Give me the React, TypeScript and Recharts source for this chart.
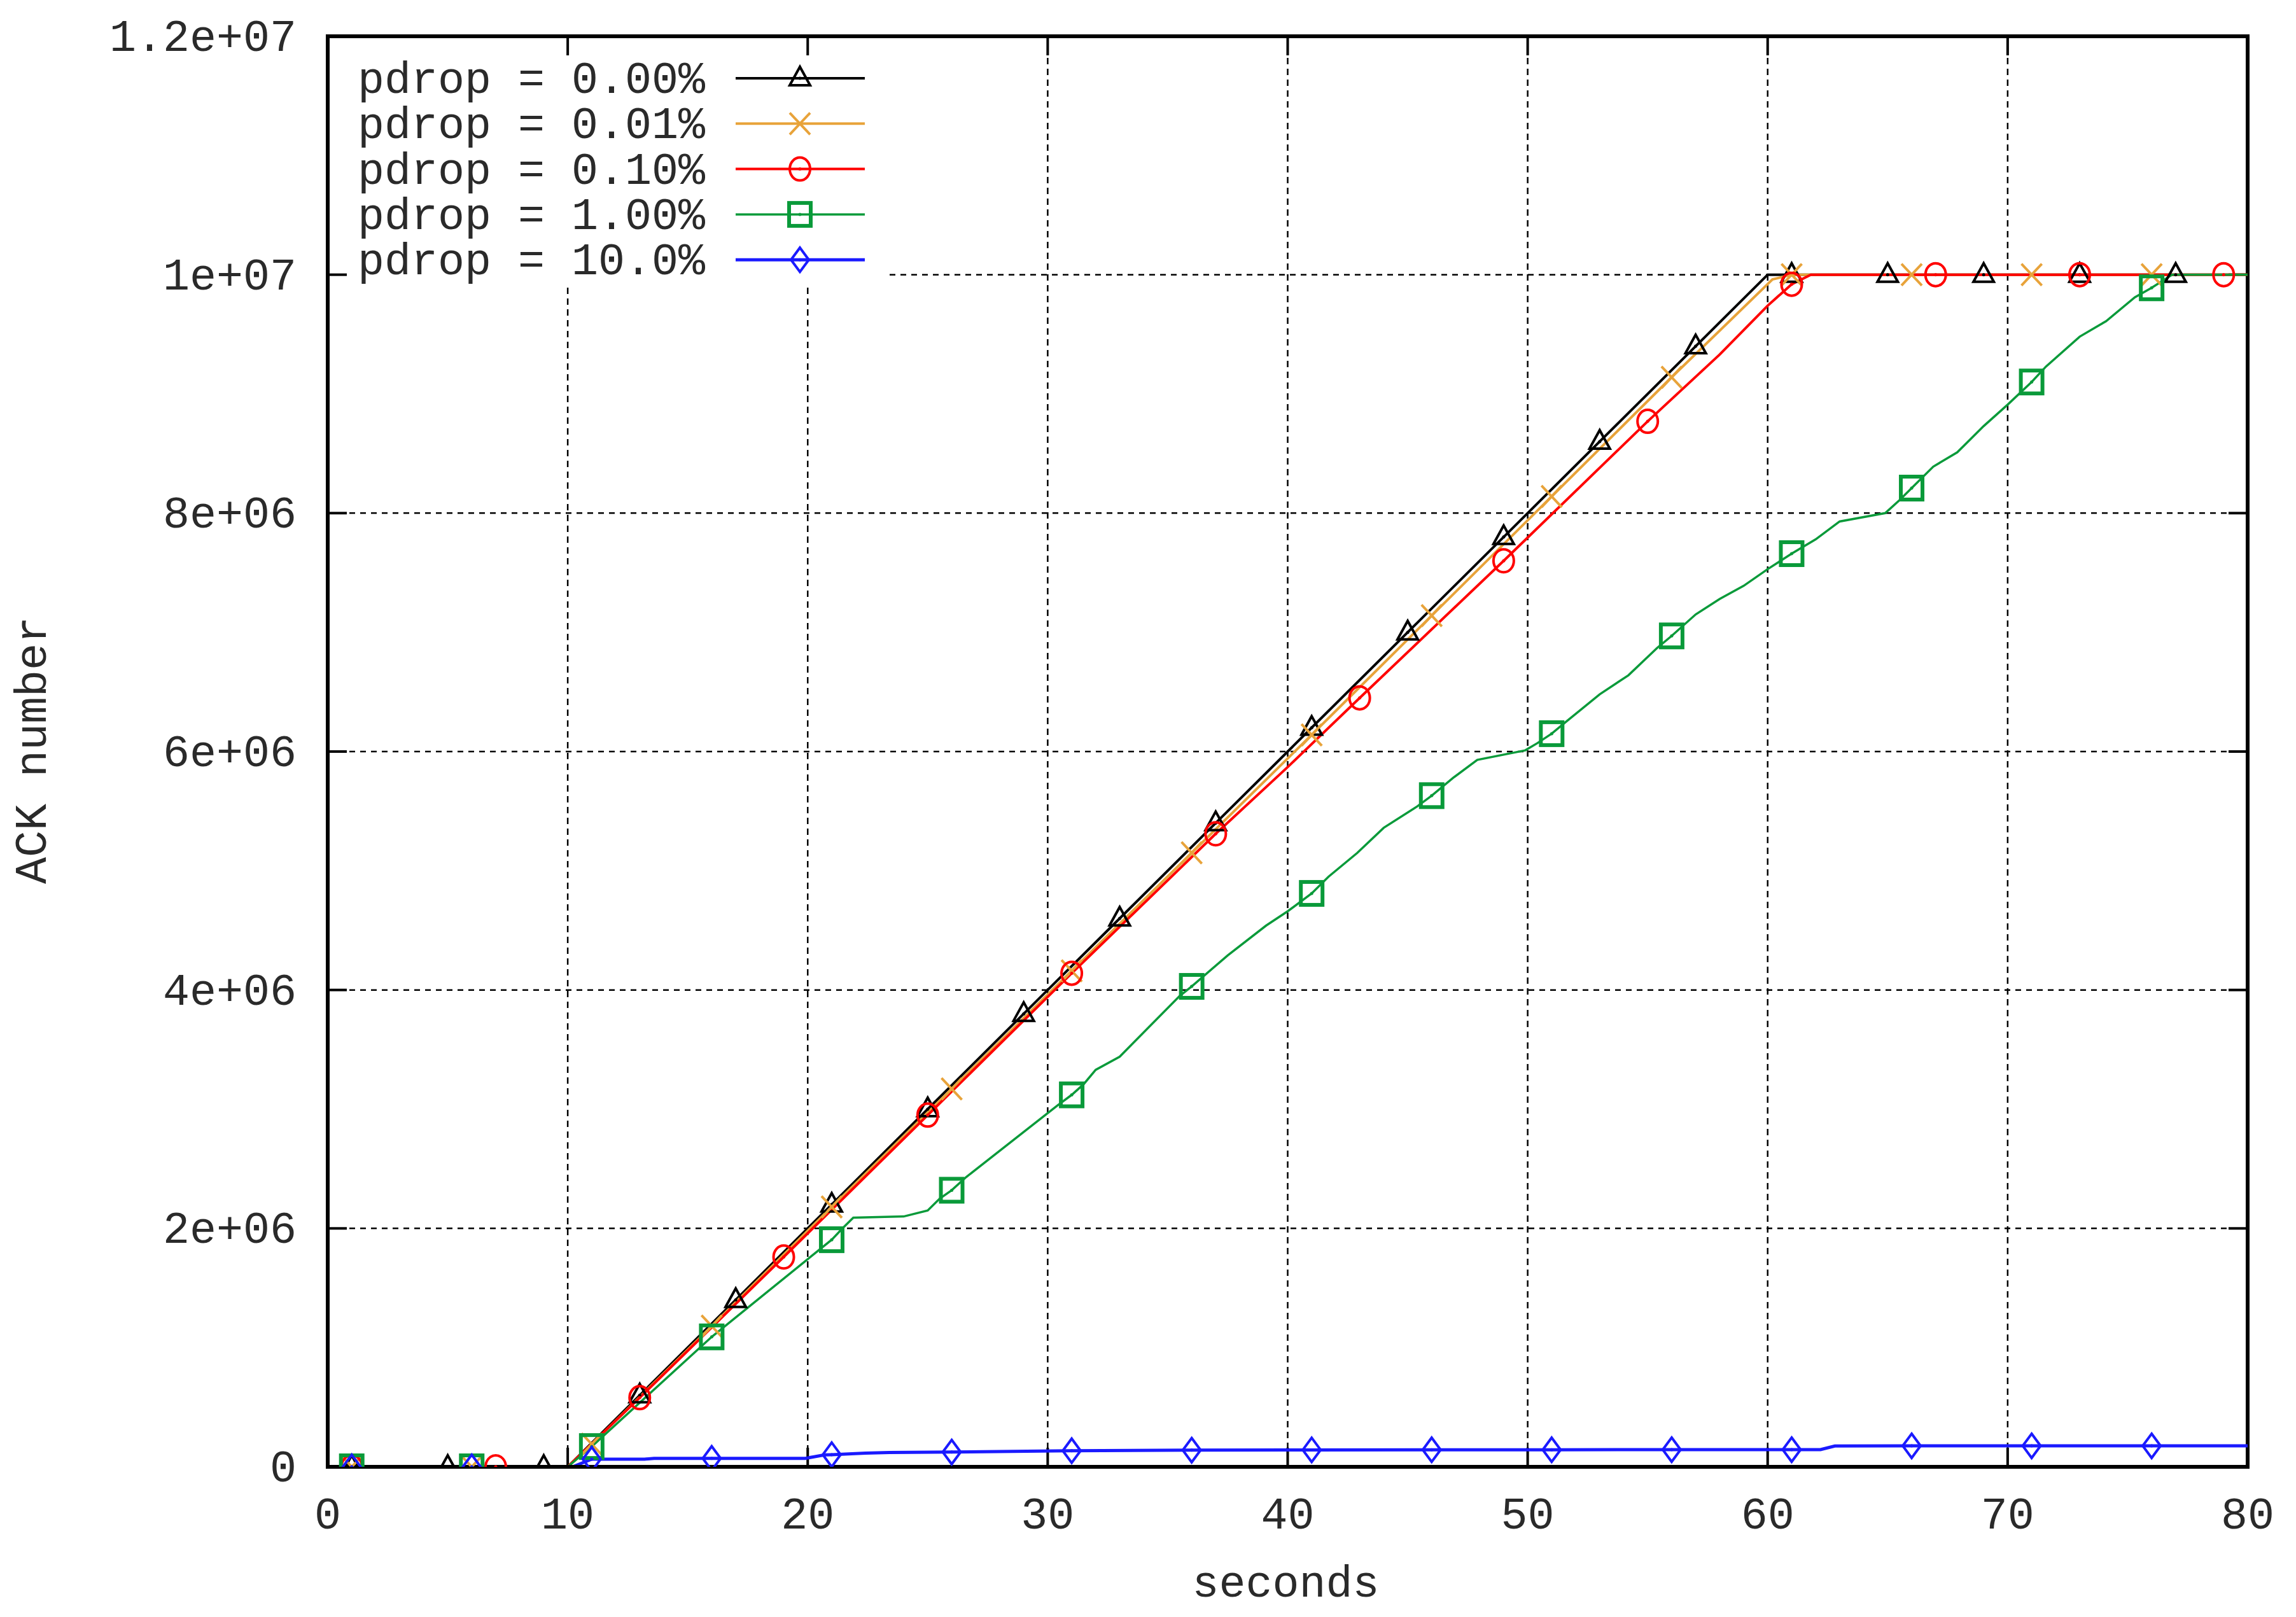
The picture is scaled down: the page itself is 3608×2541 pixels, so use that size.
import React from 'react';
import { LineChart, Line, XAxis, YAxis, CartesianGrid, Legend } from 'recharts';

// ---------- axis ticks ----------
const xTicks = [0, 10, 20, 30, 40, 50, 60, 70, 80];
const yTicks = [0, 2e6, 4e6, 6e6, 8e6, 10e6, 12e6];

// ---------- series: [seconds, ACK number in millions] ----------
const ack000: [number, number][] = [
  [1, 0], [5, 0], [9, 0], [10, 0], [13, 0.6], [17, 1.4], [21, 2.2], [25, 3.0], [29, 3.8],
  [33, 4.6], [37, 5.4], [41, 6.2], [45, 7.0], [49, 7.8], [53, 8.6], [57, 9.4], [60, 10.0],
  [61, 10.0], [65, 10.0], [69, 10.0], [73, 10.0], [77, 10.0], [80, 10.0],
];
const marks000 = [1, 5, 9, 13, 17, 21, 25, 29, 33, 37, 41, 45, 49, 53, 57, 61, 65, 69, 73, 77];

const ack001: [number, number][] = [
  [1, 0], [6, 0], [10, 0], [11, 0.19], [16, 1.18], [21, 2.18], [26, 3.17], [31, 4.16],
  [36, 5.15], [41, 6.14], [46, 7.14], [51, 8.14], [56, 9.14], [60.2, 9.96], [61, 10.0],
  [66, 10.0], [71, 10.0], [76, 10.0], [80, 10.0],
];
const marks001 = [1, 6, 11, 16, 21, 26, 31, 36, 41, 46, 51, 56, 61, 66, 71, 76];

const ack010: [number, number][] = [
  [1, 0], [7, 0], [10, 0], [13, 0.58], [19, 1.76], [25, 2.95], [31, 4.14], [37, 5.31],
  [40, 5.87], [43, 6.45], [49, 7.6], [55, 8.77], [58, 9.33], [60, 9.74], [61, 9.92],
  [61.8, 10.0], [67, 10.0], [73, 10.0], [79, 10.0], [80, 10.0],
];
const marks010 = [1, 7, 13, 19, 25, 31, 37, 43, 49, 55, 61, 67, 73, 79];

const ack100: [number, number][] = [
  [1, 0], [6, 0], [10, 0], [11, 0.17], [16, 1.09], [21, 1.905], [21.45, 2.0], [21.9, 2.09],
  [24, 2.1], [25, 2.15], [25.5, 2.25], [26, 2.32], [26.6, 2.43], [30.4, 3.03], [31, 3.12],
  [31.5, 3.21], [32, 3.33], [33, 3.44], [35.5, 3.95], [36, 4.03], [37.5, 4.29], [39.1, 4.54],
  [40, 4.66], [41, 4.81], [41.7, 4.95], [42.9, 5.15], [44, 5.36], [45.4, 5.54], [46, 5.63],
  [46.9, 5.78], [47.9, 5.93], [49.4, 5.99], [49.9, 6.01], [50.4, 6.07], [51, 6.15],
  [51.6, 6.25], [53, 6.48], [54.2, 6.64], [55.4, 6.87], [56, 6.97], [57, 7.15], [58, 7.28],
  [59, 7.39], [60, 7.53], [61, 7.66], [62, 7.78], [63, 7.93], [64.9, 8.0], [65.5, 8.11],
  [66, 8.21], [66.9, 8.39], [67.9, 8.51], [69, 8.73], [70, 8.91], [71, 9.1], [71.6, 9.23],
  [73, 9.48], [74.1, 9.61], [75.3, 9.81], [76, 9.89], [76.85, 10.0], [80, 10.0],
];
const marks100 = [1, 6, 11, 16, 21, 26, 31, 36, 41, 46, 51, 56, 61, 66, 71, 76];

const ack1000: [number, number][] = [
  [1, 0], [6, 0], [10.2, 0], [11, 0.064], [13.2, 0.064], [13.6, 0.071], [16, 0.071],
  [19.9, 0.071], [20.7, 0.1], [21, 0.102], [22.4, 0.115], [23.4, 0.12], [26, 0.124],
  [30.9, 0.135], [31, 0.135], [36, 0.14], [40, 0.142], [41, 0.142], [46, 0.143], [51, 0.143],
  [56, 0.144], [61, 0.144], [62.2, 0.144], [62.8, 0.175], [66, 0.176], [71, 0.176],
  [76, 0.176], [80, 0.176],
];
const marks1000 = [1, 6, 11, 16, 21, 26, 31, 36, 41, 46, 51, 56, 61, 66, 71, 76];

const seriesNames = ['pdrop = 0.00%', 'pdrop = 0.01%', 'pdrop = 0.10%', 'pdrop = 1.00%', 'pdrop = 10.0%'];

// ---------- styling ----------
const FONT = '"Liberation Mono", "DejaVu Sans Mono", monospace';
const FS = 70;
const TEXT = '#2a2a2a';
const W = 3608;
const H = 2541;
const PLOT_L = 515;
const PLOT_R = 3532;
const PLOT_T = 57;
const PLOT_B = 2305;
const LEG_R = 1398;
const LEG_B = 452;
const TICK = 30;
const BORDER = 6;

type Shape = 'tri' | 'cross' | 'circle' | 'square' | 'diamond';

const toRows = (pts: [number, number][], marks: number[]) =>
  pts.map(([t, a]) => ({ t, ack: a * 1e6, mark: marks.includes(t) }));

const SERIES = [
  { name: seriesNames[0], color: '#000000', shape: 'tri' as Shape, width: 4, rows: toRows(ack000, marks000) },
  { name: seriesNames[1], color: '#e8a33a', shape: 'cross' as Shape, width: 4, rows: toRows(ack001, marks001) },
  { name: seriesNames[2], color: '#ff0000', shape: 'circle' as Shape, width: 4, rows: toRows(ack010, marks010) },
  { name: seriesNames[3], color: '#0a9a3a', shape: 'square' as Shape, width: 3.5, rows: toRows(ack100, marks100) },
  { name: seriesNames[4], color: '#1a1aff', shape: 'diamond' as Shape, width: 5, rows: toRows(ack1000, marks1000) },
];

const drawMarker = (shape: Shape, cx: number, cy: number, color: string, key?: string) => {
  const dot = <circle cx={cx} cy={cy} r={2.5} fill={color} />;
  switch (shape) {
    case 'tri':
      return (
        <g key={key}>
          <polygon points={`${cx},${cy - 18} ${cx - 16},${cy + 11} ${cx + 16},${cy + 11}`} fill="none" stroke={color} strokeWidth={4} />
          {dot}
        </g>
      );
    case 'cross':
      return (
        <g key={key}>
          <line x1={cx - 16} y1={cy - 17} x2={cx + 16} y2={cy + 17} stroke={color} strokeWidth={4} />
          <line x1={cx - 16} y1={cy + 17} x2={cx + 16} y2={cy - 17} stroke={color} strokeWidth={4} />
        </g>
      );
    case 'circle':
      return (
        <g key={key}>
          <ellipse cx={cx} cy={cy} rx={16} ry={18} fill="none" stroke={color} strokeWidth={4} />
          {dot}
        </g>
      );
    case 'square':
      return (
        <g key={key}>
          <rect x={cx - 17} y={cy - 18} width={34} height={36} fill="none" stroke={color} strokeWidth={6} />
          {dot}
        </g>
      );
    case 'diamond':
    default:
      return (
        <g key={key}>
          <polygon points={`${cx},${cy - 19} ${cx + 14},${cy} ${cx},${cy + 19} ${cx - 14},${cy}`} fill="none" stroke={color} strokeWidth={4} />
          {dot}
        </g>
      );
  }
};

const makeDot = (shape: Shape, color: string) => (props: any) => {
  const key = `dot-${shape}-${props.index}`;
  if (!props.payload || !props.payload.mark || props.cx == null || props.cy == null) return <g key={key} />;
  return drawMarker(shape, props.cx, props.cy, color, key);
};

const fmtY = (v: number) => {
  if (v === 0) return '0';
  const [m, e] = v.toExponential().split('e');
  const sign = e[0];
  const digits = e.slice(1).padStart(2, '0');
  return `${m}e${sign}${digits}`;
};

const textProps = { fontFamily: FONT, fontSize: FS, fill: TEXT };

const BottomTick = (p: any) => (
  <text x={p.x} y={PLOT_B + 97} textAnchor="middle" {...textProps}>{p.payload.value}</text>
);
const LeftTick = (p: any) => (
  <text x={PLOT_L - 49} y={p.y + 23} textAnchor="end" {...textProps}>{fmtY(p.payload.value)}</text>
);

// grid lines + gnuplot-style frame and inward ticks (positions come from the axis scales)
const gridH = (p: any) => {
  const edge = Math.abs(p.y1 - PLOT_T) < 1.5 || Math.abs(p.y1 - PLOT_B) < 1.5;
  const x1 = p.y1 < LEG_B ? Math.max(p.x1, LEG_R) : p.x1;
  return (
    <g key={`gh-${p.index}-${p.y1}`}>
      {edge ? (
        <line x1={p.x1 - BORDER / 2} y1={p.y1} x2={p.x2 + BORDER / 2} y2={p.y2} stroke="#000" strokeWidth={BORDER} />
      ) : (
        <line x1={x1} y1={p.y1} x2={p.x2} y2={p.y2} stroke="#000" strokeWidth={2.5} strokeDasharray="9 8" />
      )}
      <line x1={p.x1} y1={p.y1} x2={p.x1 + TICK} y2={p.y1} stroke="#000" strokeWidth={4} />
      <line x1={p.x2} y1={p.y2} x2={p.x2 - TICK} y2={p.y2} stroke="#000" strokeWidth={4} />
    </g>
  );
};
const gridV = (p: any) => {
  const edge = Math.abs(p.x1 - PLOT_L) < 1.5 || Math.abs(p.x1 - PLOT_R) < 1.5;
  const y1 = p.x1 < LEG_R ? Math.max(p.y1, LEG_B) : p.y1;
  return (
    <g key={`gv-${p.index}-${p.x1}`}>
      {edge ? (
        <line x1={p.x1} y1={p.y1 - BORDER / 2} x2={p.x2} y2={p.y2 + BORDER / 2} stroke="#000" strokeWidth={BORDER} />
      ) : (
        <line x1={p.x1} y1={y1} x2={p.x2} y2={p.y2} stroke="#000" strokeWidth={2.5} strokeDasharray="10 7" />
      )}
      <line x1={p.x1} y1={p.y1} x2={p.x1} y2={p.y1 + TICK} stroke="#000" strokeWidth={4} />
      <line x1={p.x2} y1={p.y2} x2={p.x2} y2={p.y2 - TICK} stroke="#000" strokeWidth={4} />
    </g>
  );
};

const LegendBox = (props: any) => {
  const payload = (props.payload || []) as any[];
  const rowY0 = 63;
  const rowStep = 71.3;
  return (
    <svg width={880} height={392} style={{ display: 'block', overflow: 'visible' }}>
      {payload.map((entry, i) => {
        const s = SERIES.find((q) => q.name === entry.value) || SERIES[i];
        const y = rowY0 + i * rowStep;
        return (
          <g key={`leg-${i}`}>
            <text x={590} y={y + 23} textAnchor="end" {...textProps}>{entry.value}</text>
            <line x1={638} y1={y} x2={841} y2={y} stroke={s.color} strokeWidth={s.width} />
            {drawMarker(s.shape, 739, y, s.color)}
          </g>
        );
      })}
    </svg>
  );
};

const YTitle = (props: any) => {
  const vb = props.viewBox || { x: 0, y: PLOT_T, width: PLOT_L, height: PLOT_B - PLOT_T };
  const cx = vb.x + 53;
  const cy = vb.y + vb.height / 2 - 2;
  return (
    <text x={cx} y={cy} textAnchor="middle" dominantBaseline="central" transform={`rotate(-90, ${cx}, ${cy})`} {...textProps}>
      ACK number
    </text>
  );
};
const XTitle = (props: any) => {
  const vb = props.viewBox || { x: PLOT_L, y: PLOT_B, width: PLOT_R - PLOT_L, height: 100 };
  return (
    <text x={vb.x + vb.width / 2 - 3} y={PLOT_B + 204} textAnchor="middle" {...textProps}>
      seconds
    </text>
  );
};

export default function App() {
  return (
    <div style={{ position: 'absolute', left: 0, top: 0, width: W, height: H, background: '#fff' }}>
      <LineChart
        width={W}
        height={H}
        margin={{ top: PLOT_T, right: W - PLOT_R, bottom: H - PLOT_B - 100, left: 0 }}
      >
        <CartesianGrid xAxisId="b" yAxisId="l" horizontal={gridH} vertical={gridV} />
        {SERIES.map((s) => (
          <Line
            key={s.name}
            name={s.name}
            data={s.rows}
            dataKey="ack"
            xAxisId="b"
            yAxisId="l"
            type="linear"
            stroke={s.color}
            strokeWidth={s.width}
            dot={makeDot(s.shape, s.color)}
            activeDot={false}
            legendType="line"
            isAnimationActive={false}
          />
        ))}
        <XAxis
          xAxisId="b"
          dataKey="t"
          type="number"
          domain={[0, 80]}
          ticks={xTicks}
          interval={0}
          height={100}
          tickSize={0}
          tickMargin={0}
          tickLine={false}
          axisLine={{ stroke: '#000', strokeWidth: BORDER }}
          tick={<BottomTick />}
          label={XTitle}
          allowDataOverflow
        />
        <YAxis
          yAxisId="l"
          type="number"
          domain={[0, 12e6]}
          ticks={yTicks}
          interval={0}
          width={PLOT_L}
          tickSize={0}
          tickMargin={0}
          tickLine={false}
          axisLine={{ stroke: '#000', strokeWidth: BORDER }}
          tick={<LeftTick />}
          label={YTitle}
          allowDataOverflow
        />
        <Legend
          layout="vertical"
          align="center"
          verticalAlign="middle"
          content={<LegendBox />}
          wrapperStyle={{ left: 518, top: 60, width: 880, height: 392 }}
        />
      </LineChart>
    </div>
  );
}
